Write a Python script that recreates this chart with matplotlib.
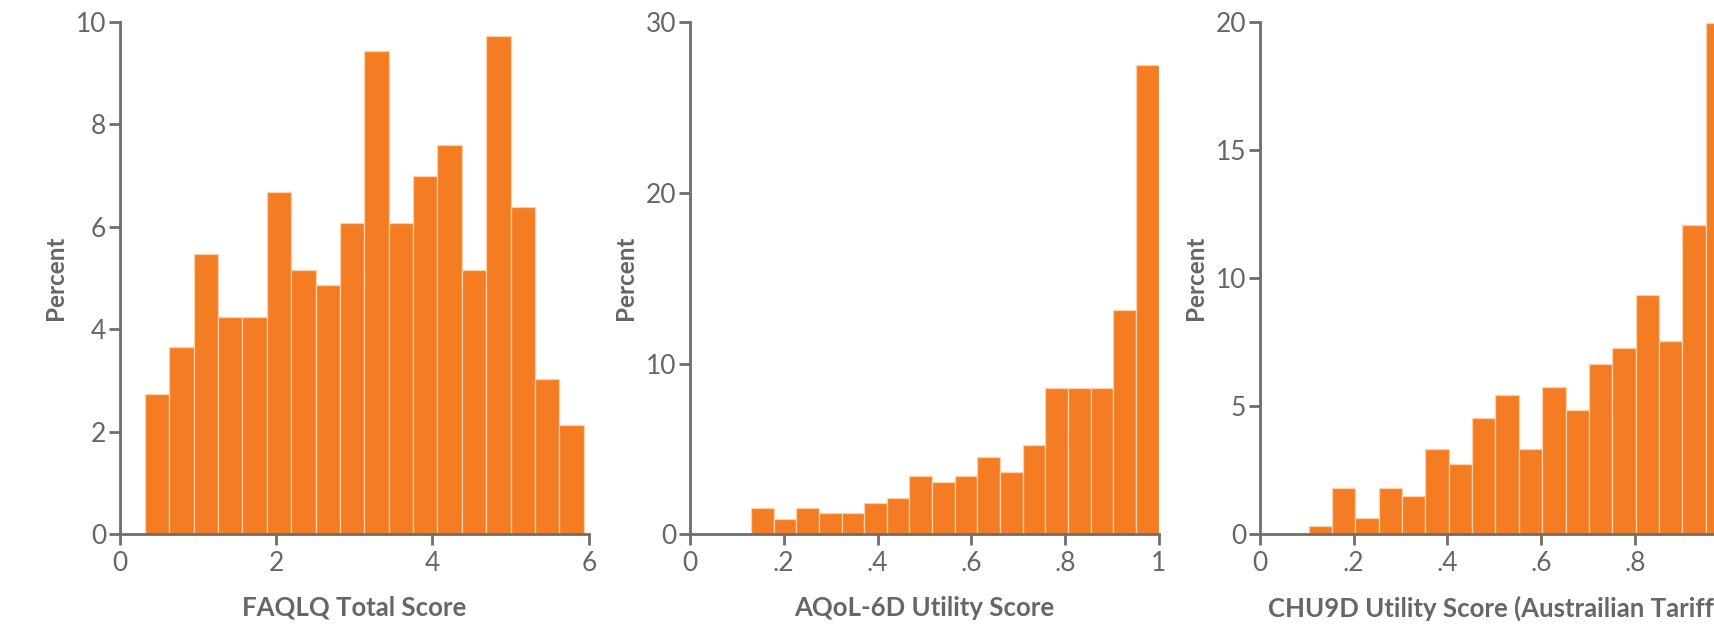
import numpy as np
import matplotlib
matplotlib.use("Agg")
import matplotlib.pyplot as plt

plt.rcParams['font.family'] = ['Lato', 'DejaVu Sans']

# histogram data (percent per bin)
faqlq_start, faqlq_width = 0.32, 0.312
faqlq_pct = [2.75, 3.65, 5.47, 4.25, 4.25, 6.68, 5.16, 4.86, 6.07,
             9.44, 6.07, 7.0, 7.6, 5.16, 9.73, 6.39, 3.04, 2.13]

aqol_start, aqol_width = 0.130, 0.0483
aqol_pct = [1.53, 0.92, 1.55, 1.27, 1.27, 1.85, 2.11, 3.40, 3.05,
            3.40, 4.53, 3.64, 5.21, 8.57, 8.57, 8.57, 13.12, 27.49]

chu_start, chu_width = 0.104, 0.0498
chu_pct = [0.33, 1.82, 0.64, 1.82, 1.50, 3.32, 2.75, 4.54, 5.45,
           3.32, 5.76, 4.84, 6.65, 7.26, 9.36, 7.56, 12.08, 19.97]

x_labels = ["FAQLQ Total Score", "AQoL-6D Utility Score",
            "CHU9D Utility Score (Austrailian Tariff)"]
faqlq_xticks = [0, 2, 4, 6]
faqlq_xticklabels = ["0", "2", "4", "6"]
util_xticks = [0, 0.2, 0.4, 0.6, 0.8, 1]
util_xticklabels = ["0", ".2", ".4", ".6", ".8", "1"]
faqlq_yticks = [0, 2, 4, 6, 8, 10]
aqol_yticks = [0, 10, 20, 30]
chu_yticks = [0, 5, 10, 15, 20]

bar_color = '#f47d23'
edge_color = '#fbd0ad'
axis_color = '#6e6e6e'
text_color = '#666666'

fig = plt.figure(figsize=(17.14, 6.28), dpi=100)

panels = [
    (0.0700, faqlq_start, faqlq_width, faqlq_pct, (0, 6), (0, 10),
     faqlq_xticks, faqlq_xticklabels, faqlq_yticks),
    (0.4026, aqol_start, aqol_width, aqol_pct, (0, 1), (0, 30),
     util_xticks, util_xticklabels, aqol_yticks),
    (0.7351, chu_start, chu_width, chu_pct, (0, 1), (0, 20),
     util_xticks, util_xticklabels, chu_yticks),
]

for i, (left, start, width, pct, xlim, ylim, xt, xtl, yt) in enumerate(panels):
    ax = fig.add_axes([left, 0.149, 0.2735, 0.816])
    edges = start + width * np.arange(len(pct))
    ax.bar(edges, pct, width=width, align='edge', color=bar_color,
           edgecolor=edge_color, linewidth=0.9, zorder=2)

    ax.set_xlim(*xlim)
    ax.set_ylim(*ylim)
    ax.set_xticks(xt)
    ax.set_xticklabels(xtl)
    ax.set_yticks(yt)

    for side in ['top', 'right']:
        ax.spines[side].set_visible(False)
    for side in ['left', 'bottom']:
        ax.spines[side].set_color(axis_color)
        ax.spines[side].set_linewidth(2)
        ax.spines[side].set_zorder(3)

    ax.tick_params(axis='both', colors=axis_color, width=2, length=8,
                   labelsize=19, labelcolor=text_color, pad=2)
    ax.tick_params(axis='x', pad=4)

    ax.set_ylabel("Percent", fontsize=17.5, fontweight='bold',
                  color=text_color, labelpad=6)
    ax.set_xlabel(x_labels[i], fontsize=18.5, fontweight='bold',
                  color=text_color, labelpad=14)

fig.savefig("out.png", dpi=100)
